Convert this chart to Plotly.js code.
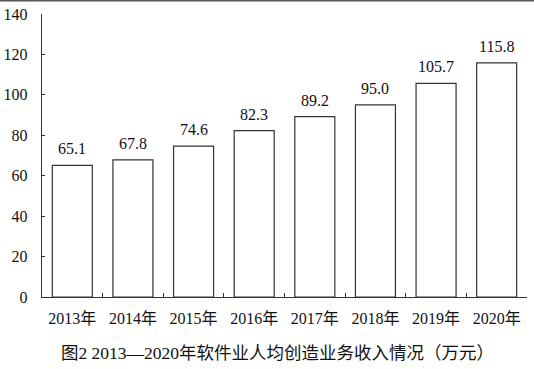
<!DOCTYPE html>
<html><head><meta charset="utf-8">
<script src="https://cdn.plot.ly/plotly-3.0.1.min.js"></script>
<style>body{margin:0;padding:0;background:#fff}#c{width:534px;height:369px}</style>
</head><body><div id="c"></div>
<script>
const categories = ["2013年","2014年","2015年","2016年","2017年","2018年","2019年","2020年"];
const values = [65.1, 67.8, 74.6, 82.3, 89.2, 95.0, 105.7, 115.8];
const valueLabels = ["65.1","67.8","74.6","82.3","89.2","95.0","105.7","115.8"];
const chartTitle = "图2 2013—2020年软件业人均创造业务收入情况（万元）";

const FONT = "Liberation Serif, Times New Roman, Noto Sans CJK SC, serif";
const H = 369, T = 14, B = 72;
const plotH = H - T - B;

const labelAnn = categories.map((c, i) => ({
  x: c, y: values[i], xref: "x", yref: "y", text: valueLabels[i],
  showarrow: false, yanchor: "bottom", xanchor: "center", yshift: 6,
  font: {family: FONT, size: 16, color: "#111"}
}));

Plotly.newPlot("c", [{
  type: "bar", x: categories, y: values,
  marker: {color: "#fff", line: {color: "#333", width: 1.2}},
  hoverinfo: "skip"
}], {
  width: 534, height: 369,
  margin: {l: 42, r: 7, t: T, b: B},
  paper_bgcolor: "#fff", plot_bgcolor: "#fff",
  bargap: 0.34,
  showlegend: false,
  font: {family: FONT, size: 16, color: "#111"},
  xaxis: {type: "category", showline: true, linecolor: "#333", linewidth: 1.2,
    ticks: "inside", tickson: "boundaries", ticklen: 4, tickcolor: "#333",
    ticklabelstandoff: 7,
    showgrid: false, zeroline: false, tickfont: {family: FONT, size: 16, color: "#111"}},
  yaxis: {range: [0, 140], dtick: 20, showline: true, linecolor: "#333", linewidth: 1.2,
    ticks: "inside", ticklen: 3, tickcolor: "#333", showgrid: false, zeroline: false,
    ticklabelstandoff: 10, tickfont: {family: FONT, size: 16, color: "#111"}},
  annotations: labelAnn.concat([{text: chartTitle, xref: "paper", yref: "paper", x: 0.485, y: -(353 - (H - B)) / plotH,
    xanchor: "center", yanchor: "middle", showarrow: false,
    font: {family: FONT, size: 17.5, color: "#111"}}]),
  shapes: [{type: "line", xref: "paper", yref: "paper", x0: -1, x1: 2,
    y0: 1 + (T - 0.5) / plotH, y1: 1 + (T - 0.5) / plotH, line: {color: "#555", width: 2}}]
}, {displayModeBar: false, staticPlot: true});
</script></body></html>
